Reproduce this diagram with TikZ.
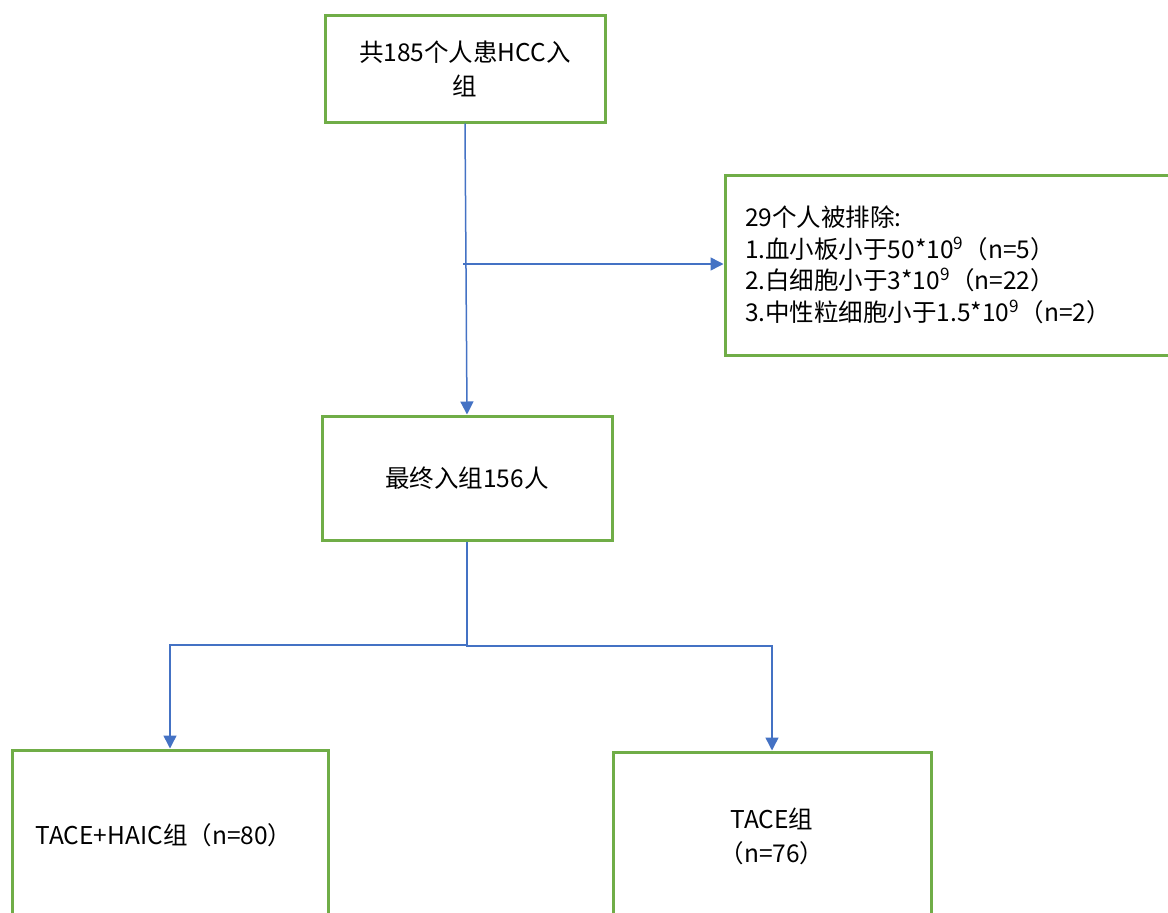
\documentclass[tikz,border=0pt]{standalone}
\usepackage{fontspec}
\setmainfont{Noto Sans CJK SC}
\usetikzlibrary{arrows.meta}
\definecolor{boxgreen}{HTML}{70AD47}
\definecolor{arrowblue}{HTML}{4472C4}
\tikzset{
  box/.style={draw=boxgreen, line width=3pt, fill=white, inner sep=0pt, align=center,
    font=\fontsize{24.5}{34}\selectfont},
  conn/.style={draw=arrowblue, line width=1.5pt},
  arr/.style={conn, -{Triangle[length=13pt,width=13pt]}}
}
\begin{document}
\begin{tikzpicture}[x=1pt,y=-1pt]
\useasboundingbox (0,0) rectangle (1168,913);
\node[box, minimum width=280pt, minimum height=107pt] (top) at (465,68.5) {共185个人患HCC入\\组};
\node[box, minimum width=450pt, minimum height=180pt, text width=410pt, inner xsep=20pt, align=left,
  font=\fontsize{24.5}{31.5}\selectfont] (excl) at (950,265)
  {29个人被排除:\\1.血小板小于50*10\textsuperscript{9}（n=5）\\2.白细胞小于3*10\textsuperscript{9}（n=22）\\3.中性粒细胞小于1.5*10\textsuperscript{9}（n=2）};
\node[box, minimum width=290pt, minimum height=124pt] (mid) at (467,478) {最终入组156人};
\node[box, minimum width=316pt, minimum height=170pt] (left) at (170,835) {TACE+HAIC组（n=80）\hspace*{12pt}};
\node[box, minimum width=318pt, minimum height=168pt] (right) at (772,836) {TACE组\\（n=76）};
\coordinate (br) at (463,264);
\coordinate (sp) at (467,645);
\coordinate (lc) at (170,645);
\coordinate (rc) at (772,646);
\draw[arr] (top.south) -- (mid.north);
\draw[arr] (br) -- (excl.west |- br);
\draw[conn] (mid.south) -- (sp);
\draw[arr] (sp) -- (lc) -- (left.north);
\draw[arr] (sp) |- (rc) -- (right.north);
\end{tikzpicture}
\end{document}
